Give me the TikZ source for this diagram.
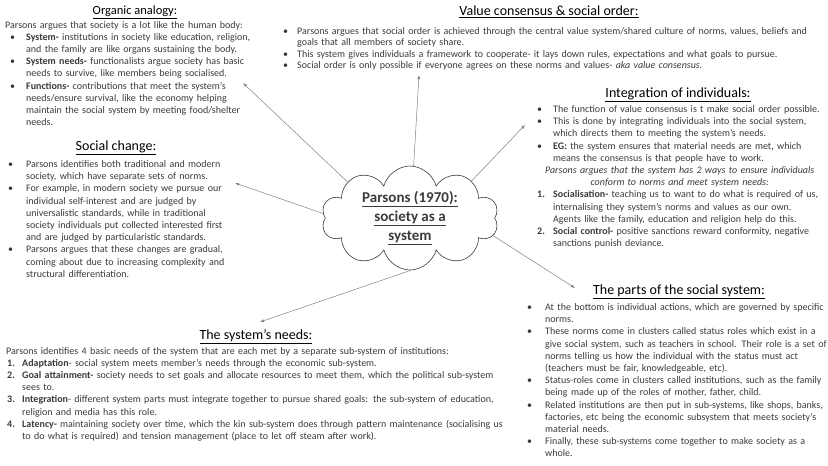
\documentclass[tikz,border=0pt]{standalone}
\usepackage{fontspec}
\setmainfont{Carlito}
\usetikzlibrary{shapes.symbols,arrows.meta}

\definecolor{txtgray}{HTML}{3A3A3A}
\definecolor{arrgray}{HTML}{808080}

\newlength{\boff}
\newlength{\bhang}
\newcommand{\bset}[2]{\setlength{\boff}{#1}\setlength{\bhang}{#2}}
\newcommand{\bitem}[1]{\par\hangindent=\bhang\hangafter=1\noindent\hbox to \bhang{\hspace{\boff}\textbullet\hss}#1\par}
\newcommand{\nitem}[2]{\par\hangindent=\bhang\hangafter=1\noindent\hbox to \bhang{\hspace{\boff}\textbf{#1}\hss}#2\par}

\tikzset{
  heading/.style={inner sep=0pt, font=\fontsize{14}{16}\selectfont, text=black},
  body/.style={anchor=north west, inner sep=0pt, text width=#1,
    execute at begin node={\raggedright\lineskiplimit=-10pt},
    font=\fontsize{10}{12.2}\selectfont, text=txtgray},
  conn/.style={draw=arrgray, line width=0.5pt, -{Latex[length=4pt,width=3pt]}}
}

\begin{document}
\begin{tikzpicture}[x=1pt,y=-1pt]
  \useasboundingbox (0,0) rectangle (828,466);

  \node[heading, font=\fontsize{12.5}{15}\selectfont] (orgT) at (135,12) {\underline{Organic analogy:}};
  \node[body=275pt] (orgB) at (5,21) {\bset{5pt}{21pt}\noindent Parsons argues that society is a lot like the human body:
    \bitem{\textbf{System-} institutions in society like education, religion,\newline and the family are like organs sustaining the body.}
    \bitem{\textbf{System needs-} functionalists argue society has basic\newline needs to survive, like members being socialised.}
    \bitem{\textbf{Functions-} contributions that meet the system's\newline needs/ensure survival, like the economy helping\newline maintain the social system by meeting food/shelter\newline needs.}};

  \node[heading] (valT) at (549,12) {\underline{Value consensus \& social order:}};
  \node[body=540pt, font=\fontsize{10}{11.3}\selectfont] (valB) at (283,23) {\bset{0pt}{14pt}%
    \bitem{Parsons argues that social order is achieved through the central value system/shared culture of norms, values, beliefs and\newline goals that all members of society share.}
    \bitem{This system gives individuals a framework to cooperate- it lays down rules, expectations and what goals to pursue.}
    \bitem{Social order is only possible if everyone agrees on these norms and values- \textit{aka value consensus.}}};

  \node[heading] (intT) at (678,95) {\underline{Integration of individuals:}};
  \node[body=285pt] (intB) at (537,100) {\bset{0pt}{16pt}%
    \bitem{The function of value consensus is t make social order possible.}
    \bitem{This is done by integrating individuals into the social system,\newline which directs them to meeting the system's needs.}
    \bitem{\textbf{EG:} the system ensures that material needs are met, which\newline means the consensus is that people have to work.}
    {\centering\itshape Parsons argues that the system has 2 ways to ensure individuals\par conform to norms and meet system needs:\par}
    \nitem{1.}{\textbf{Socialisation-} teaching us to want to do what is required of us,\newline internalising they system's norms and values as our own.\newline Agents like the family, education and religion help do this.}
    \nitem{2.}{\textbf{Social control-} positive sanctions reward conformity, negative\newline sanctions punish deviance.}};

  \node[heading] (chgT) at (116,148) {\underline{Social change:}};
  \node[body=280pt] (chgB) at (8,155) {\bset{0pt}{18pt}%
    \bitem{Parsons identifies both traditional and modern\newline society, which have separate sets of norms.}
    \bitem{For example, in modern society we pursue our\newline individual self-interest and are judged by\newline universalistic standards, while in traditional\newline society individuals put collected interested first\newline and are judged by particularistic standards.}
    \bitem{Parsons argues that these changes are gradual,\newline coming about due to increasing complexity and\newline structural differentiation.}};

  \node[heading] (needT) at (256,337) {\underline{The system's needs:}};
  \node[body=520pt] (needB) at (6,347) {\bset{1pt}{16pt}\noindent Parsons identifies 4 basic needs of the system that are each met by a separate sub-system of institutions:
    \nitem{1.}{\textbf{Adaptation}- social system meets member's needs through the economic sub-system.}
    \nitem{2.}{\textbf{Goal attainment-} society needs to set goals and allocate resources to meet them, which the political sub-system\newline sees to.}
    \nitem{3.}{\textbf{Integration}- different system parts must integrate together to pursue shared goals: the sub-system of education,\newline religion and media has this role.}
    \nitem{4.}{\textbf{Latency-} maintaining society over time, which the kin sub-system does through pattern maintenance (socialising us\newline to do what is required) and tension management (place to let off steam after work).}};

  \node[heading] (partT) at (679,292) {\underline{The parts of the social system:}};
  \node[body=300pt] (partB) at (527,298) {\bset{0pt}{18pt}%
    \bitem{At the bottom is individual actions, which are governed by specific\newline norms.}
    \bitem{These norms come in clusters called status roles which exist in a\newline give social system, such as teachers in school. Their role is a set of\newline norms telling us how the individual with the status must act\newline (teachers must be fair, knowledgeable, etc).}
    \bitem{Status-roles come in clusters called institutions, such as the family\newline being made up of the roles of mother, father, child.}
    \bitem{Related institutions are then put in sub-systems, like shops, banks,\newline factories, etc being the economic subsystem that meets society's\newline material needs.}
    \bitem{Finally, these sub-systems come together to make society as a\newline whole.}};

  \node[cloud, draw=txtgray, line width=0.6pt, cloud puffs=10, cloud ignores aspect,
    minimum width=177pt, minimum height=85pt, inner sep=0pt, align=center,
    font=\fontsize{15}{19}\selectfont\bfseries, text=txtgray] (parsons) at (410,218)
    {\underline{Parsons (1970):}\\ \underline{society as a}\\ \underline{system}};

  \coordinate (orgTip) at (243,83);
  \coordinate (valTip) at (419,75);
  \coordinate (intTip) at (525,125);
  \coordinate (chgTip) at (235,183);
  \coordinate (needTip) at (260,322);
  \coordinate (partTip) at (575,288);

  \draw[conn] (parsons.150) -- (orgTip);
  \draw[conn] (parsons.86) -- (valTip);
  \draw[conn] (parsons.31) -- (intTip);
  \draw[conn] (parsons.177) -- (chgTip);
  \draw[conn] (parsons.-89) -- (needTip);
  \draw[conn] (parsons.-12) -- (partTip);
\end{tikzpicture}
\end{document}
